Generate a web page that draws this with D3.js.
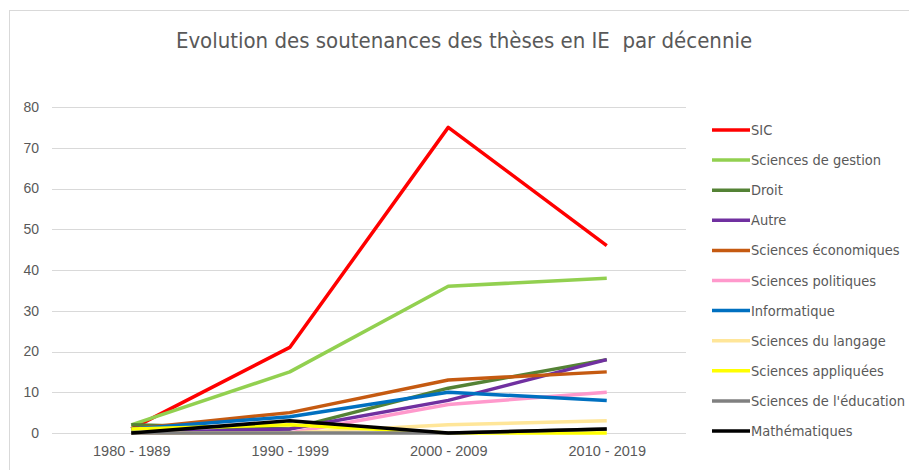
<!DOCTYPE html>
<html>
<head>
<meta charset="utf-8">
<script src="https://cdn.jsdelivr.net/npm/d3@7"></script>
<style>
  body { margin: 0; background: #fff; }
  svg { font-family: "Liberation Sans Narrow", "DejaVu Sans Condensed", "Open Sans", sans-serif; }
</style>
</head>
<body>
<svg width="909" height="470"></svg>
<script>
// data
const decades = ['1980 - 1989', '1990 - 1999', '2000 - 2009', '2010 - 2019'];
const yTicks = [0, 10, 20, 30, 40, 50, 60, 70, 80];
const seriesNames = [
  'SIC', 'Sciences de gestion', 'Droit', 'Autre', 'Sciences économiques',
  'Sciences politiques', 'Informatique', 'Sciences du langage',
  'Sciences appliquées', "Sciences de l'éducation", 'Mathématiques'
];
const sic = [1, 21, 75, 46];
const gestion = [2, 15, 36, 38];
const droit = [2, 1, 11, 18];
const autre = [0, 1, 8, 18];
const economie = [1, 5, 13, 15];
const politique = [0, 0, 7, 10];
const informatique = [1, 4, 10, 8];
const langage = [0, 0, 2, 3];
const appliquees = [1, 2, 0, 0];
const education = [0, 0, 0, 1];
const maths = [0, 3, 0, 1];
const seriesValues = [sic, gestion, droit, autre, economie, politique,
  informatique, langage, appliquees, education, maths];
const colors = ['#ff0000', '#92d050', '#548235', '#7030a0', '#c55a11',
  '#ff99cc', '#0070c0', '#ffe699', '#ffff00', '#808080', '#000000'];

const svg = d3.select('svg');

// chart frame
svg.append('rect')
  .attr('x', 9.5).attr('y', 10.5)
  .attr('width', 905).attr('height', 470)
  .attr('fill', 'none')
  .attr('stroke', '#d9d9d9');

svg.append('text')
  .attr('x', 464)
  .attr('y', 48)
  .attr('text-anchor', 'middle')
  .attr('font-size', '22px')
  .attr('fill', '#595959')
  .style('white-space', 'pre')
  .text('Evolution des soutenances des thèses en IE  par décennie');

const plotLeft = 52, plotRight = 686, plotTop = 107, plotBottom = 433;

const x = d3.scalePoint().domain(decades).range([plotLeft, plotRight]).padding(0.5);
const y = d3.scaleLinear().domain([0, 80]).range([plotBottom, plotTop]);

// gridlines
svg.append('g')
  .selectAll('line')
  .data(yTicks)
  .enter()
  .append('line')
  .attr('x1', plotLeft).attr('x2', plotRight)
  .attr('y1', (d) => Math.round(y(d)) + 0.5)
  .attr('y2', (d) => Math.round(y(d)) + 0.5)
  .attr('stroke', '#d9d9d9');

const yAxis = svg.append('g')
  .attr('transform', `translate(${plotLeft - 13},0)`)
  .call(d3.axisLeft(y).tickValues(yTicks).tickSize(0).tickPadding(0));
yAxis.select('.domain').remove();
yAxis.selectAll('text')
  .attr('font-size', '14px')
  .attr('font-family', 'inherit')
  .attr('fill', '#595959');

const xAxis = svg.append('g')
  .attr('transform', `translate(0,${plotBottom})`)
  .call(d3.axisBottom(x).tickSize(0).tickPadding(13));
xAxis.select('.domain').remove();
xAxis.selectAll('text')
  .attr('font-size', '14.5px')
  .attr('font-family', 'inherit')
  .attr('fill', '#595959');

const line = d3.line()
  .x((d, i) => x(decades[i]))
  .y((d) => y(d));

svg.append('g')
  .selectAll('path')
  .data(seriesValues)
  .enter()
  .append('path')
  .attr('d', line)
  .attr('fill', 'none')
  .attr('stroke', (d, i) => colors[i])
  .attr('stroke-width', 3.5)
  .attr('stroke-linejoin', 'round');

// legend
const legend = svg.append('g')
  .selectAll('g')
  .data(seriesNames)
  .enter()
  .append('g')
  .attr('transform', (d, i) => `translate(712,${130 + i * 30.1})`);

legend.append('line')
  .attr('x1', 0).attr('x2', 38)
  .attr('stroke', (d, i) => colors[i])
  .attr('stroke-width', 3.5);

legend.append('text')
  .attr('x', 39)
  .attr('dy', '0.35em')
  .attr('font-size', '14.5px')
  .attr('fill', '#595959')
  .text((d) => d);
</script>
</body>
</html>
